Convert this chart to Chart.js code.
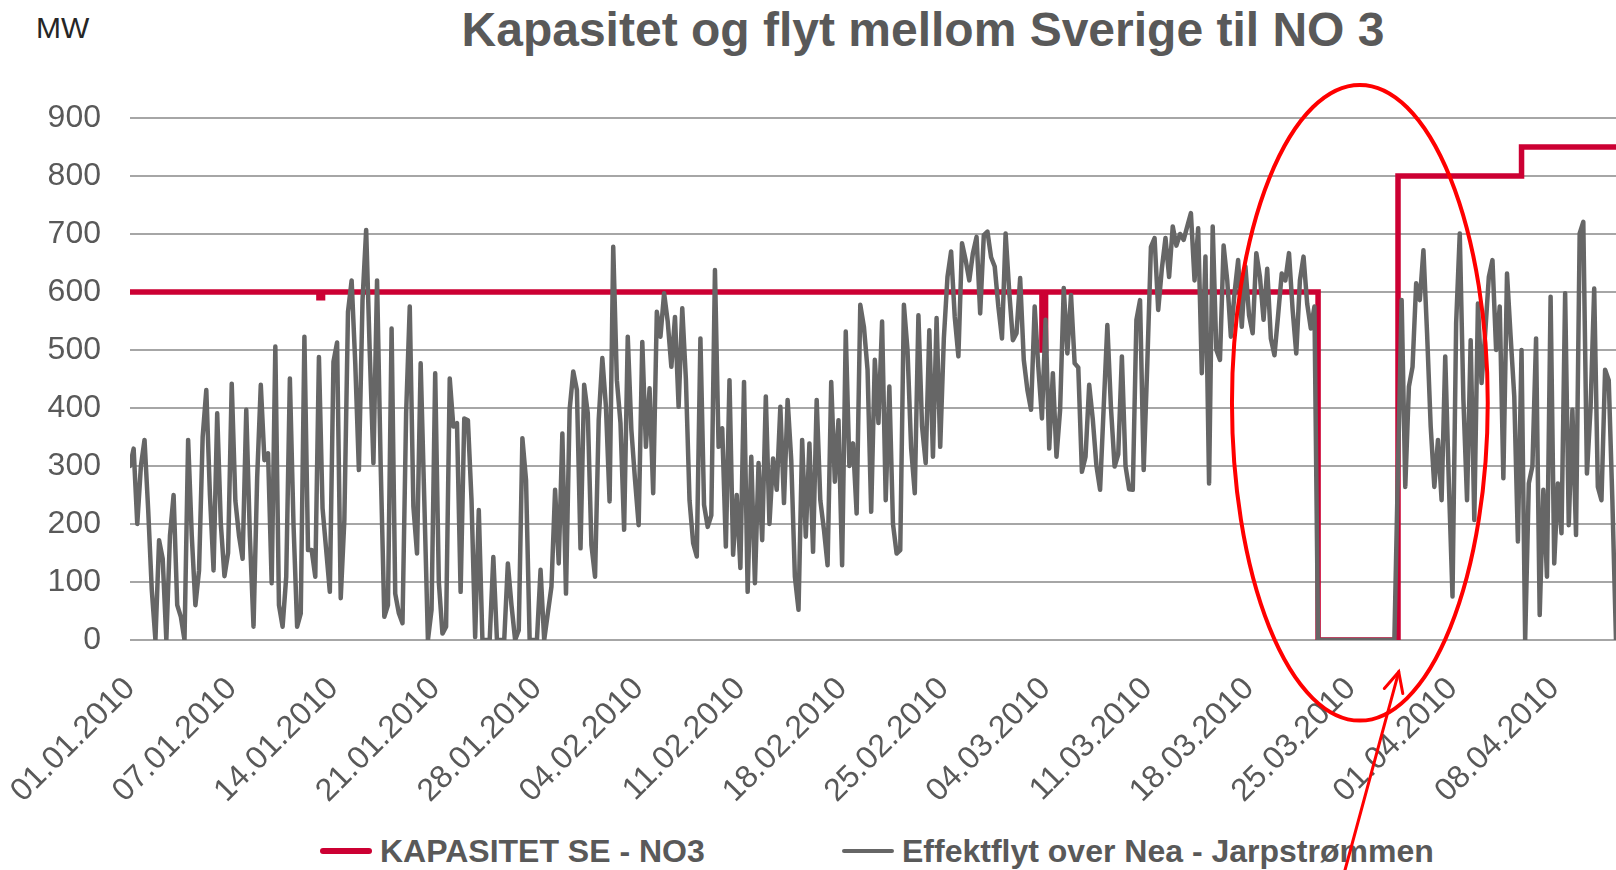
<!DOCTYPE html>
<html>
<head>
<meta charset="utf-8">
<title>Kapasitet og flyt mellom Sverige til NO 3</title>
<script src="https://cdn.jsdelivr.net/npm/chart.js@4.4.0/dist/chart.umd.min.js"></script>
<style>
  html, body { margin: 0; padding: 0; background: #fff; }
  #wrap { position: relative; width: 1616px; height: 870px; font-family: "Liberation Sans", Arial, sans-serif; }
  #chart { position: absolute; left: 0; top: 0; z-index: 2; }
  .title { position: absolute; left: 923px; top: 6px; transform: translateX(-50%); font-size: 48px; font-weight: bold; color: #595959; line-height: 1; white-space: nowrap; }
  .unit { position: absolute; left: 36px; top: 13px; font-size: 30px; color: #262626; line-height: 1; }
  .legend-item { position: absolute; top: 833px; height: 36px; display: flex; align-items: center; font-size: 32px; font-weight: bold; color: #595959; white-space: nowrap; z-index: 1; }
  .swatch { width: 52px; margin-right: 8px; border-radius: 3px; }
</style>
</head>
<body>
<div id="wrap">
  <div class="unit">MW</div>
  <div class="title">Kapasitet og flyt mellom Sverige til NO 3</div>
  <div class="legend-item" style="left:320px"><span class="swatch" style="height:6px;background:#cc0033"></span>KAPASITET SE - NO3</div>
  <div class="legend-item" style="left:842px"><span class="swatch" style="height:4px;background:#666666"></span>Effektflyt over Nea - Jarpstrømmen</div>
  <canvas id="chart" width="1616" height="870"></canvas>
</div>
<script>
// x-axis labels, one per 28 samples (4 samples a day, 6-hour steps)
const dateLabels = ['01.01.2010', '07.01.2010', '14.01.2010', '21.01.2010', '28.01.2010',
  '04.02.2010', '11.02.2010', '18.02.2010', '25.02.2010', '04.03.2010', '11.03.2010',
  '18.03.2010', '25.03.2010', '01.04.2010', '08.04.2010'];
const samplesPerLabel = 28;

// capacity SE - NO3 (MW): sample index where each level starts, and the level
const capStart = [0, 52, 53, 251, 252, 327, 349, 383, 409];
const capLevel = [600, 590, 600, 500, 600, 0, 800, 850, 850];

// flow over Nea - Jarpstrømmen (MW), 6-hour samples
const flow = [
  // 01.01
  300, 330, 200, 300, 345, 225, 86, 0, 172, 140, 0, 180, 250, 60, 40, 0, 345, 180, 60, 120, 350, 431, 250, 120, 391, 200, 110, 150,
  // 07.01
  442, 240, 180, 140, 397, 178, 23, 280, 440, 310, 322, 98, 506, 60, 23, 109, 451, 200, 23, 46, 523, 155, 155, 109, 488, 227, 155, 83,
  // 14.01
  480, 513, 72, 207, 566, 620, 477, 293, 586, 707, 494, 305, 620, 300, 40, 60, 537, 80, 46, 29, 391, 575, 230, 149, 477, 241, 0, 52,
  // 21.01
  460, 100, 11, 23, 451, 368, 374, 83, 382, 379, 241, 5, 224, 0, 0, 0, 143, 0, 0, 0, 132, 60, 0, 17, 348, 276, 0, 0,
  // 28.01
  0, 121, 0, 46, 92, 259, 132, 356, 80, 397, 463, 431, 158, 440, 391, 164, 109, 379, 486, 402, 239, 678, 448, 374, 190, 523, 362, 276,
  // 04.02
  198, 514, 333, 434, 253, 566, 523, 598, 549, 471, 557, 402, 572, 450, 241, 167, 144, 520, 233, 195, 215, 638, 333, 365, 161, 448, 147, 250,
  // 11.02
  124, 445, 83, 316, 98, 305, 172, 420, 200, 313, 259, 402, 236, 414, 310, 109, 52, 345, 178, 339, 152, 414, 241, 190, 129, 445, 273, 379,
  // 18.02
  129, 532, 300, 339, 218, 578, 540, 466, 221, 483, 374, 549, 241, 437, 200, 149, 155, 578, 500, 330, 253, 560, 368, 305, 534, 316, 555, 333,
  // 25.02
  520, 626, 670, 557, 489, 684, 655, 620, 667, 695, 563, 698, 704, 660, 644, 575, 520, 701, 600, 517, 529, 624, 483, 431, 397, 575, 471, 382,
  // 04.03
  552, 330, 460, 316, 397, 607, 494, 595, 477, 470, 290, 316, 440, 380, 300, 259, 402, 543, 400, 299, 320, 489, 300, 260, 259, 552, 586, 293,
  // 11.03
  477, 678, 693, 569, 640, 693, 626, 713, 680, 700, 690, 713, 736, 620, 710, 460, 661, 270, 713, 500, 483, 680, 620, 523, 598, 655, 540, 644,
  // 18.03
  560, 529, 667, 626, 552, 640, 520, 491, 560, 632, 620, 667, 569, 494, 620, 661, 580, 537, 575, 0, 0, 0, 0, 0, 0, 0, 0, 0,
  // 25.03
  0, 0, 0, 0, 0, 0, 0, 0, 0, 0, 0, 0, 0, 299, 586, 264, 437, 471, 615, 586, 672, 529, 368, 264, 345, 241, 489, 270,
  // 01.04
  75, 546, 701, 414, 241, 517, 207, 580, 443, 529, 626, 655, 500, 575, 279, 632, 523, 420, 170, 500, 0, 270, 300, 520, 43, 259, 109, 592,
  // 08.04
  132, 270, 184, 598, 198, 397, 181, 701, 721, 287, 400, 606, 264, 241, 466, 448, 241, 0
];

// red ring and arrow drawn over the chart, in axis units
const ring = { x: 338.5, y: 409, dx: 35.2, dy: 548 };
const arrow = { fromX: 334.4, fromY: -397, toX: 349.2, toY: -55 };

const ringPlugin = {
  id: 'ringAndArrow',
  afterDraw(chart) {
    const { ctx } = chart;
    const xs = chart.scales.x, ys = chart.scales.y;
    const cx = xs.getPixelForValue(ring.x), cy = ys.getPixelForValue(ring.y);
    const rx = Math.abs(xs.getPixelForValue(ring.x + ring.dx) - cx);
    const ry = Math.abs(ys.getPixelForValue(ring.y + ring.dy) - cy);
    ctx.save();
    ctx.strokeStyle = '#ff0000';
    ctx.lineWidth = 4;
    ctx.beginPath();
    ctx.ellipse(cx, cy, rx, ry, 0, 0, Math.PI * 2);
    ctx.stroke();

    const bx = xs.getPixelForValue(arrow.fromX), by = ys.getPixelForValue(arrow.fromY);
    const tx = xs.getPixelForValue(arrow.toX), ty = ys.getPixelForValue(arrow.toY);
    ctx.lineWidth = 3;
    ctx.lineCap = 'round';
    ctx.beginPath();
    ctx.moveTo(bx, by);
    ctx.lineTo(tx, ty);
    ctx.stroke();
    const ang = Math.atan2(ty - by, tx - bx);
    const head = 22;
    ctx.beginPath();
    ctx.moveTo(tx - head * Math.cos(ang - 0.45), ty - head * Math.sin(ang - 0.45));
    ctx.lineTo(tx, ty);
    ctx.lineTo(tx - head * Math.cos(ang + 0.45), ty - head * Math.sin(ang + 0.45));
    ctx.stroke();
    ctx.restore();
  }
};

Chart.defaults.font.family = '"Liberation Sans", Arial, sans-serif';

new Chart(document.getElementById('chart'), {
  type: 'line',
  data: {
    datasets: [{
      label: 'KAPASITET SE - NO3',
      data: capStart.map((x, i) => ({ x: x, y: capLevel[i] })),
      borderColor: '#cc0033',
      borderWidth: 5.5,
      stepped: true,
      pointRadius: 0,
      fill: false,
      order: 1
    }, {
      label: 'Effektflyt over Nea - Jarpstrømmen',
      data: flow.map((v, i) => ({ x: i, y: v })),
      borderColor: '#666666',
      borderWidth: 4.5,
      borderJoinStyle: 'round',
      borderCapStyle: 'round',
      pointRadius: 0,
      tension: 0,
      fill: false,
      order: 0
    }]
  },
  options: {
    responsive: false,
    animation: false,
    layout: { padding: { top: 118, right: 0, bottom: 0, left: 0 } },
    plugins: {
      legend: { display: false },
      tooltip: { enabled: false }
    },
    scales: {
      x: {
        type: 'linear',
        min: 0,
        max: flow.length - 1,
        grid: { display: false, drawTicks: false },
        border: { display: false },
        ticks: {
          stepSize: samplesPerLabel,
          autoSkip: false,
          minRotation: 45,
          maxRotation: 45,
          padding: 30,
          color: '#595959',
          font: { size: 32 },
          callback: (v) => dateLabels[v / samplesPerLabel] ?? ''
        },
        afterFit: (s) => { s.height = 230; s.paddingLeft = 0; s.paddingRight = 0; }
      },
      y: {
        min: 0,
        max: 900,
        ticks: { stepSize: 100, padding: 29, color: '#595959', font: { size: 32 } },
        grid: { color: '#a6a6a6', lineWidth: 2, drawTicks: false },
        border: { display: false },
        afterFit: (s) => { s.width = 130; }
      }
    }
  },
  plugins: [ringPlugin]
});
</script>
</body>
</html>
